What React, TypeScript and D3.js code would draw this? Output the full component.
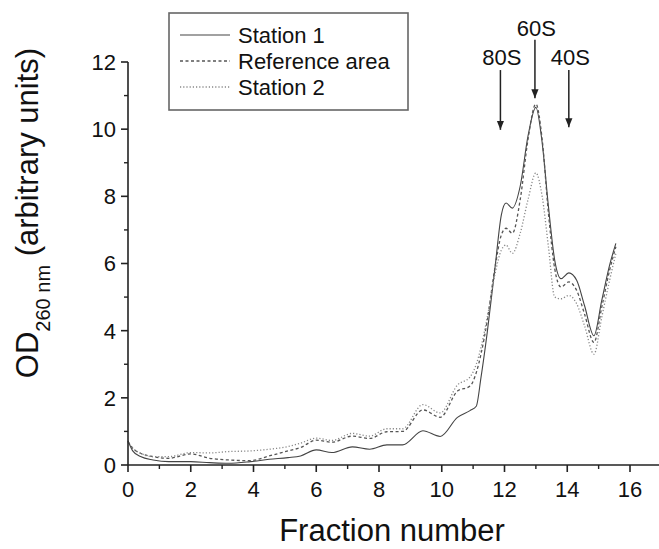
import React from "react";
import * as d3 from "d3";

const fractions = [0, 0.15, 0.4, 0.8, 1.3, 2.0, 2.6, 3.2, 3.9, 4.5, 5.1, 5.5, 6.0, 6.5, 7.15, 7.7, 8.25, 8.75, 9.4, 9.95, 10.5, 10.9, 11.1, 11.25, 11.45, 11.7, 11.9, 12.05, 12.25, 12.5, 12.75, 13.0, 13.2, 13.4, 13.6, 13.8, 14.05, 14.3, 14.55, 14.85, 15.1, 15.35, 15.55];

const station1 = [0.72, 0.42, 0.25, 0.15, 0.1, 0.1, 0.07, 0.05, 0.1, 0.17, 0.22, 0.27, 0.45, 0.37, 0.54, 0.47, 0.6, 0.6, 1.02, 0.85, 1.42, 1.62, 1.75, 2.6, 3.95, 5.9, 7.45, 7.8, 7.65, 8.3, 9.8, 10.65, 9.6, 7.7, 6.1, 5.55, 5.72, 5.5, 4.75, 3.85, 4.9, 5.95, 6.6];

const referenceArea = [0.7, 0.5, 0.35, 0.25, 0.2, 0.33, 0.2, 0.15, 0.13, 0.27, 0.42, 0.52, 0.74, 0.68, 0.86, 0.79, 0.99, 1.0, 1.64, 1.42, 2.2, 2.35, 2.75, 3.3, 4.3, 5.9, 6.85, 7.05, 6.9, 7.9, 9.7, 10.75, 9.7, 7.5, 5.85, 5.3, 5.45, 5.2, 4.5, 3.65, 4.7, 5.8, 6.5];

const station2 = [0.68, 0.5, 0.35, 0.25, 0.25, 0.37, 0.36, 0.4, 0.42, 0.47, 0.55, 0.65, 0.8, 0.73, 0.94, 0.86, 1.08, 1.08, 1.8, 1.55, 2.38, 2.62, 3.0, 3.5, 4.4, 5.7, 6.4, 6.55, 6.3, 6.9, 7.9, 8.7, 8.0, 6.5, 5.0, 4.95, 5.05, 4.8, 4.15, 3.3, 4.4, 5.5, 6.3];

const seriesNames = ["Station 1", "Reference area", "Station 2"];

const xMajorTicks = [0, 2, 4, 6, 8, 10, 12, 14, 16];
const yMajorTicks = [0, 2, 4, 6, 8, 10, 12];

const peakLabels = ["80S", "60S", "40S"];
const peakX = [11.87, 12.97, 14.05];
const peakTextY = [11.9, 12.78, 11.9];
const peakArrowTop = [11.76, 12.66, 11.76];
const peakArrowTip = [9.98, 10.92, 10.06];

const FONT = "'Liberation Sans', Arial, Helvetica, sans-serif";

export default function App() {
  const W = 659;
  const H = 549;
  const x = d3.scaleLinear().domain([0, 16]).range([128, 630]);
  const y = d3.scaleLinear().domain([0, 12]).range([465, 62]);

  const styles = [
    { stroke: "#444", dash: undefined as string | undefined, width: 1.1 },
    { stroke: "#555", dash: "3,2.5", width: 1.3 },
    { stroke: "#888", dash: "1.2,2", width: 1.3 },
  ];
  const allSeries = [station1, referenceArea, station2];

  const line = d3
    .line<[number, number]>()
    .x((d) => x(d[0]))
    .y((d) => y(d[1]))
    .curve(d3.curveMonotoneX);

  const xMinor = d3.range(1, 17, 2);
  const yMinor = d3.range(1, 12, 2);
  const axisColor = "#222";

  return (
    <svg
      width={W}
      height={H}
      style={{ position: "absolute", left: 0, top: 0, background: "#fff" }}
      fontFamily={FONT}
    >
      <rect x={0} y={0} width={W} height={H} fill="#fff" />

      {/* curves */}
      {allSeries.map((vals, i) => (
        <path
          key={seriesNames[i]}
          d={line(fractions.map((f, k) => [f, vals[k]] as [number, number])) || ""}
          fill="none"
          stroke={styles[i].stroke}
          strokeWidth={styles[i].width}
          strokeDasharray={styles[i].dash}
        />
      ))}

      {/* x axis */}
      <line x1={x(0)} x2={x(16.95)} y1={y(0)} y2={y(0)} stroke={axisColor} strokeWidth={1.6} />
      {xMajorTicks.map((t) => (
        <g key={"xt" + t}>
          <line x1={x(t)} x2={x(t)} y1={y(0)} y2={y(0) + 7} stroke={axisColor} strokeWidth={1.6} />
          <text x={x(t)} y={497} textAnchor="middle" fontSize={22} fill="#111">
            {t}
          </text>
        </g>
      ))}
      {xMinor.map((t) => (
        <line key={"xm" + t} x1={x(t)} x2={x(t)} y1={y(0)} y2={y(0) + 4} stroke={axisColor} strokeWidth={1.4} />
      ))}

      {/* y axis */}
      <line x1={x(0)} x2={x(0)} y1={y(0)} y2={y(12)} stroke={axisColor} strokeWidth={1.6} />
      {yMajorTicks.map((t) => (
        <g key={"yt" + t}>
          <line x1={x(0) - 7} x2={x(0)} y1={y(t)} y2={y(t)} stroke={axisColor} strokeWidth={1.6} />
          <text x={116} y={y(t)} dy="0.36em" textAnchor="end" fontSize={22} fill="#111">
            {t}
          </text>
        </g>
      ))}
      {yMinor.map((t) => (
        <line key={"ym" + t} x1={x(0) - 4} x2={x(0)} y1={y(t)} y2={y(t)} stroke={axisColor} strokeWidth={1.4} />
      ))}

      {/* axis titles */}
      <text x={392} y={541} textAnchor="middle" fontSize={31} fill="#111">
        Fraction number
      </text>
      <text transform="translate(38,213) rotate(-90)" textAnchor="middle" fontSize={31} fill="#111">
        <tspan>OD</tspan>
        <tspan fontSize={20} dy={12}>260 nm</tspan>
        <tspan dy={-12}> (arbitrary units)</tspan>
      </text>

      {/* peak annotations */}
      <defs>
        <marker id="arrowhead" viewBox="0 0 10 10" refX={10} refY={5} markerWidth={6} markerHeight={6} orient="auto">
          <path d="M0,1 L10,5 L0,9 Z" fill="#222" />
        </marker>
      </defs>
      {peakLabels.map((lab, i) => (
        <g key={lab}>
          <text x={x(peakX[i]) + 1.5} y={y(peakTextY[i])} textAnchor="middle" fontSize={22} fill="#111">
            {lab}
          </text>
          <line
            x1={x(peakX[i])}
            x2={x(peakX[i])}
            y1={y(peakArrowTop[i])}
            y2={y(peakArrowTip[i])}
            stroke="#222"
            strokeWidth={1.5}
            markerEnd="url(#arrowhead)"
          />
        </g>
      ))}

      {/* legend */}
      <rect x={169} y={13} width={239} height={97} fill="#fff" stroke="#666" strokeWidth={1.6} />
      {seriesNames.map((name, i) => {
        const cy = 35 + i * 26;
        return (
          <g key={"lg" + name}>
            <line
              x1={180}
              x2={230}
              y1={cy}
              y2={cy}
              stroke={styles[i].stroke}
              strokeWidth={styles[i].width}
              strokeDasharray={styles[i].dash}
            />
            <text x={238} y={cy} dy="0.36em" fontSize={22} fill="#111">
              {name}
            </text>
          </g>
        );
      })}
    </svg>
  );
}
